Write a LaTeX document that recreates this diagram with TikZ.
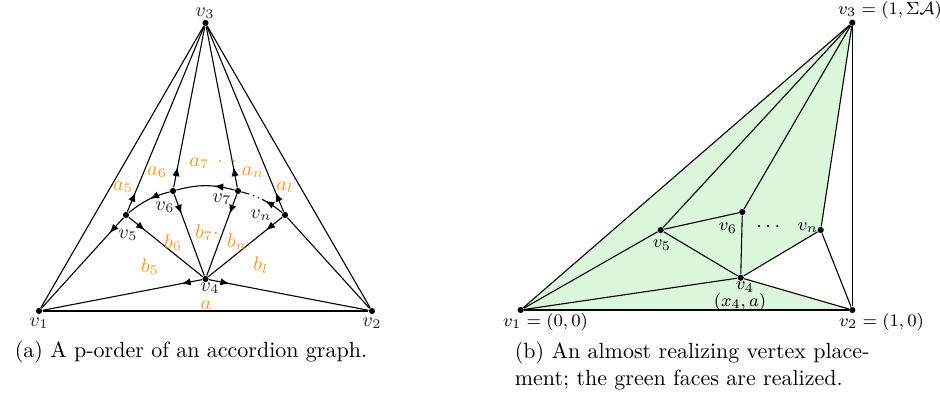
\documentclass[tikz,border=0pt]{standalone}
\usepackage{amsmath,amssymb}
\usetikzlibrary{arrows.meta,decorations.markings,backgrounds}
\definecolor{labelorange}{RGB}{255,150,40}
\definecolor{facegreen}{RGB}{220,246,220}
\tikzset{
  vtx/.style={circle, fill=black, inner sep=0pt, minimum size=2.8pt},
  dirout/.style={postaction={decorate}, decoration={markings, mark=at position 9.5pt with {\arrow{Latex[length=4.2pt,width=3.3pt]}}}},
  wt/.style={font=\small, text=labelorange, inner sep=0pt},
  vlab/.style={font=\small, text=black!85, inner sep=0pt},
  plab/.style={font=\footnotesize, inner sep=0pt}
}
\begin{document}
\begin{tikzpicture}[x=0.4545pt, y=0.4545pt, line width=0.5pt]
\useasboundingbox (0,0) rectangle (940,408);

% (a) p-order of the accordion graph
\node[vtx] (v1) at (39,97) {};
\node[vtx] (v2) at (372,97) {};
\node[vtx] (v3) at (205.5,385) {};
\node[vtx] (v4) at (205.5,129) {};
\node[vtx] (v5) at (126,193) {};
\node[vtx] (v6) at (173,217) {};
\node[vtx] (v7) at (238,217) {};
\node[vtx] (vn) at (285,193) {};

% outer triangle
\draw (v1) -- (v2);
\draw (v1) -- (v3);
\draw (v2) -- (v3);
\draw (vn) -- (v2);

% edges to v3
\draw[dirout] (v5) -- (v3);
\draw[dirout] (v6) -- (v3);
\draw[dirout] (v7) -- (v3);
\draw[dirout] (vn) -- (v3);

% edges to v4 and v1
\draw[dirout] (v5) -- (v1);
\draw[dirout] (v5) -- (v4);
\draw[dirout] (v6) -- (v4);
\draw[dirout] (v7) -- (v4);
\draw[dirout] (vn) -- (v4);
\draw[dirout] (v4) -- (v1);
\draw[dirout] (v4) -- (v2);

% the accordion arc
\draw[dirout] (v6) to[bend right=12] (v5);
\draw[dirout] (v7) to[bend right=15] (v6);
\draw[dirout, dash pattern=on 11pt off 1.5pt on 0.6pt off 1.8pt on 0.6pt off 1.8pt on 20pt] (vn) to[bend right=12] (v7);

% vertex labels
\node[vlab] at (205,395) {$v_3$};
\node[vlab] at (39,85) {$v_1$};
\node[vlab] at (372,85) {$v_2$};
\node[vlab] at (210,119.5) {$v_4$};
\node[vlab] at (128,173) {$v_5$};
\node[vlab] at (165,201) {$v_6$};
\node[vlab] at (222,209) {$v_7$};
\node[vlab] at (261,193) {$v_n$};

% weights
\node[wt] at (123,221) {$a_5$};
\node[wt] at (157,236) {$a_6$};
\node[wt] at (213,245) {$a_7\,\cdot\,\cdot$};
\node[wt] at (253,236) {$a_n$};
\node[wt] at (285,221) {$a_l$};
\node[wt] at (150,141) {$b_5$};
\node[wt] at (173,165) {$b_6$};
\node[wt] at (207,175) {$b_7\cdot$};
\node[wt] at (237,166) {$b_n$};
\node[wt] at (261,143) {$b_l$};
\node[wt] at (206,102.5) {$a$};

% (b) almost realizing placement
\node[vtx] (p1) at (520.7,98) {};
\node[vtx] (p2) at (852.3,98) {};
\node[vtx] (p3) at (852.3,385.3) {};
\node[vtx] (p4) at (740.7,130.3) {};
\node[vtx] (p5) at (660.7,178) {};
\node[vtx] (p6) at (742.3,196) {};
\node[vtx] (pn) at (820.7,178) {};

% realized faces
\begin{scope}[on background layer]
\fill[facegreen] (p1.center) -- (p3.center) -- (pn.center) -- (p4.center) -- (p2.center) -- cycle;
\end{scope}

\draw (p1) -- (p2);
\draw (p1) -- (p3);
\draw (p2) -- (p3);
\draw (p1) -- (p5);
\draw (p1) -- (p4);
\draw (p4) -- (p2);
\draw (p5) -- (p3);
\draw (p5) -- (p6);
\draw (p5) -- (p4);
\draw (p6) -- (p4);
\draw (p6) -- (p3);
\draw (pn) -- (p4);
\draw (pn) -- (p3);
\draw (pn) -- (p2);

\node[plab] at (890,398) {$v_3=(1,\Sigma\mathcal{A})$};
\node[plab] at (545.5,86) {$v_1=(0,0)$};
\node[plab] at (881.5,86) {$v_2=(1,0)$};
\node[plab] at (745,121) {$v_4$};
\node[plab] at (740,106) {$(x_4,a)$};
\node[plab] at (662,163) {$v_5$};
\node[plab] at (728,180) {$v_6$};
\node[plab] at (808,180) {$v_n$};
\node[font=\small, inner sep=0pt] at (770,181) {$\cdots$};

% captions
\node[anchor=west] (capa) at (7,56) {(a) A p-order of an accordion graph.};
\node[anchor=west, align=left] (capb) at (507,42) {(b) An almost realizing vertex place-\\ment; the green faces are realized.};
\end{tikzpicture}
\end{document}
